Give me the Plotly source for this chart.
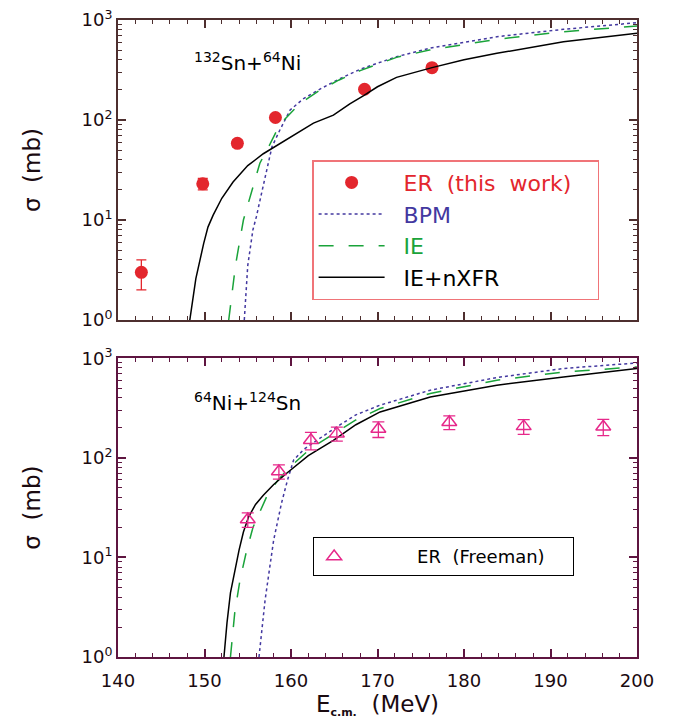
import plotly.graph_objects as go

# ---------------- data: top panel (132Sn + 64Ni) ----------------
er_top_E = [142.7, 149.8, 153.8, 158.2, 168.5, 176.3]
er_top_s = [3.0, 23.0, 58.5, 106.0, 203.0, 334.0]
er_top_err = [1.0, 3.0, 5.0, 5.0, 8.0, 12.0]

bpm_top_E = [154.6, 155.0, 155.6, 156.0, 156.5, 157.0, 157.4, 157.8, 158.7, 159.9, 161.5, 163.4, 165.5, 168.0, 172.2, 176.0, 183.8, 191.5, 200.0]
bpm_top_s = [1.0, 3.5, 8.0, 10.8, 17.0, 27.0, 40.0, 54.0, 79.0, 126.0, 165.0, 205.0, 255.0, 322.0, 430.0, 521.0, 681.0, 807.0, 940.0]

ie_top_E = [152.8, 153.6, 154.5, 155.5, 156.4, 157.6, 158.7, 160.3, 161.8, 163.4, 165.5, 168.0, 172.2, 176.0, 183.8, 191.5, 200.0]
ie_top_s = [1.0, 3.6, 10.0, 20.0, 37.0, 58.0, 90.0, 126.0, 162.0, 200.0, 250.0, 312.0, 423.0, 500.0, 641.0, 764.0, 871.0]

nx_top_E = [148.3, 149.0, 149.9, 150.4, 151.0, 152.0, 153.3, 155.0, 156.8, 158.7, 160.7, 162.6, 164.9, 166.8, 168.4, 170.0, 172.2, 176.3, 180.0, 183.8, 191.5, 200.0]
nx_top_s = [1.0, 2.6, 5.8, 8.5, 11.2, 16.5, 24.0, 35.0, 46.0, 58.0, 75.0, 93.0, 112.0, 145.0, 175.0, 215.0, 267.0, 334.0, 400.0, 464.0, 607.0, 736.0]

# ---------------- data: bottom panel (64Ni + 124Sn) ----------------
er_bot_E = [155.0, 158.6, 162.3, 165.3, 170.1, 178.3, 186.9, 196.1]
er_bot_s = [24.0, 73.0, 150.0, 175.0, 195.0, 228.0, 207.0, 205.0]
er_bot_err = [4.0, 12.0, 30.0, 28.0, 35.0, 36.0, 35.0, 38.0]

bpm_bot_E = [156.3, 157.0, 157.5, 158.0, 158.9, 159.6, 160.3, 161.5, 163.0, 165.3, 167.5, 170.3, 176.1, 183.8, 191.5, 200.0]
bpm_bot_s = [1.0, 3.7, 7.5, 15.0, 35.0, 60.0, 95.0, 122.0, 150.0, 205.0, 270.0, 338.0, 478.0, 640.0, 789.0, 897.0]

ie_bot_E = [153.0, 153.5, 154.1, 154.8, 155.6, 156.4, 157.2, 158.5, 159.9, 162.3, 164.9, 167.5, 170.3, 176.1, 183.8, 191.5, 200.0]
ie_bot_s = [1.0, 2.8, 5.9, 11.0, 20.0, 29.0, 41.0, 60.0, 81.0, 125.0, 175.0, 240.0, 313.0, 443.0, 601.0, 729.0, 818.0]

nx_bot_E = [152.25, 152.6, 153.0, 153.5, 154.0, 154.5, 155.1, 155.9, 156.8, 158.0, 159.5, 162.0, 164.9, 167.5, 170.3, 176.1, 183.8, 191.5, 200.0]
nx_bot_s = [1.0, 2.2, 4.4, 7.5, 11.9, 18.0, 25.6, 34.0, 42.0, 54.0, 70.0, 105.0, 150.0, 215.0, 289.0, 409.0, 536.0, 649.0, 789.0]

x_ticks = [140, 150, 160, 170, 180, 190, 200]
y_ticks = [1, 10, 100, 1000]
y_tick_text = ["10<sup>0</sup>", "10<sup>1</sup>", "10<sup>2</sup>", "10<sup>3</sup>"]
y_minor = [m * d for d in (1, 10, 100) for m in range(2, 10)]

RED = "#e3262d"
BLUE = "#4338a0"
GREEN = "#1aa33a"
MAG = "#e6288a"
TOPFRAME = "#4e2f2f"
BOTFRAME = "#5e1540"
TXT = "#1a0a10"
FONT = "DejaVu Sans"
NB = "\u00a0"

fig = go.Figure()

# top panel
fig.add_trace(go.Scatter(
    x=er_top_E, y=er_top_s, mode="markers",
    marker=dict(symbol="circle", size=13, color=RED),
    error_y=dict(type="data", array=er_top_err, color=RED, thickness=1.3, width=5),
    name=NB * 2 + f"<span style='color:{RED}'>ER{NB*2}(this{NB*2}work)</span>" + NB * 3,
    xaxis="x", yaxis="y", legend="legend"))
fig.add_trace(go.Scatter(
    x=bpm_top_E, y=bpm_top_s, mode="lines",
    line=dict(color=BLUE, width=1.5, dash="dot"),
    name=NB * 2 + f"<span style='color:{BLUE}'>BPM</span>",
    xaxis="x", yaxis="y", legend="legend"))
fig.add_trace(go.Scatter(
    x=ie_top_E, y=ie_top_s, mode="lines",
    line=dict(color=GREEN, width=1.5, dash="longdash"),
    name=NB * 2 + f"<span style='color:{GREEN}'>IE</span>",
    xaxis="x", yaxis="y", legend="legend"))
fig.add_trace(go.Scatter(
    x=nx_top_E, y=nx_top_s, mode="lines",
    line=dict(color="black", width=1.5),
    name=NB * 2 + "IE+nXFR",
    xaxis="x", yaxis="y", legend="legend"))

# bottom panel
fig.add_trace(go.Scatter(
    x=bpm_bot_E, y=bpm_bot_s, mode="lines",
    line=dict(color=BLUE, width=1.5, dash="dot"),
    showlegend=False, xaxis="x2", yaxis="y2"))
fig.add_trace(go.Scatter(
    x=ie_bot_E, y=ie_bot_s, mode="lines",
    line=dict(color=GREEN, width=1.5, dash="longdash"),
    showlegend=False, xaxis="x2", yaxis="y2"))
fig.add_trace(go.Scatter(
    x=nx_bot_E, y=nx_bot_s, mode="lines",
    line=dict(color="black", width=1.5),
    showlegend=False, xaxis="x2", yaxis="y2"))
fig.add_trace(go.Scatter(
    x=er_bot_E, y=er_bot_s, mode="markers",
    marker=dict(symbol="triangle-up-open", size=13, color=MAG, line=dict(width=1.5, color=MAG)),
    error_y=dict(type="data", array=er_bot_err, color=MAG, thickness=1.3, width=6),
    name=NB * 11 + "ER" + NB * 2 + "(Freeman)" + NB * 4,
    xaxis="x2", yaxis="y2", legend="legend2"))

def xaxis(frame, show_labels, anchor, title=None):
    d = dict(range=[140, 200], tickvals=x_ticks, ticks="inside", ticklen=8, tickwidth=1.5,
             tickcolor=frame, showline=True, linecolor=frame, linewidth=2, mirror="ticks",
             showgrid=False, zeroline=False, anchor=anchor, showticklabels=show_labels,
             automargin=False, ticklabelstandoff=6, ticklabeloverflow="allow",
             tickfont=dict(family=FONT, size=18, color=TXT),
             minor=dict(dtick=2, ticks="inside", ticklen=4, tickwidth=1.3, tickcolor=frame, showgrid=False))
    if title:
        d["title"] = dict(text=title, font=dict(family=FONT, size=23, color=TXT), standoff=0)
    return d

def yaxis(frame, domain, anchor):
    return dict(type="log", range=[0, 3], domain=domain, anchor=anchor,
                tickvals=y_ticks, ticktext=y_tick_text, ticks="inside", ticklen=8, tickwidth=1.5,
                tickcolor=frame, showline=True, linecolor=frame, linewidth=2, mirror="ticks",
                showgrid=False, zeroline=False, automargin=False, ticklabeloverflow="allow",
                tickfont=dict(family=FONT, size=18, color=TXT),
                minor=dict(tickvals=y_minor, ticks="inside", ticklen=4, tickwidth=1.3,
                           tickcolor=frame, showgrid=False),
                title=dict(text="\u03c3" + NB * 2 + "(mb)", font=dict(family=FONT, size=23, color=TXT),
                           standoff=34))

fig.update_layout(
    width=673, height=722,
    margin=dict(l=118, r=36, t=20, b=65, autoexpand=False),
    paper_bgcolor="white", plot_bgcolor="white",
    font=dict(family=FONT, size=22, color="black"),
    xaxis=xaxis(TOPFRAME, False, "y"),
    yaxis=yaxis(TOPFRAME, [0.529, 1.0], "x"),
    xaxis2=xaxis(BOTFRAME, True, "y2",
                 "E<sub><span style='font-size:11px'><b>c.m.</b></span></sub>" + NB * 2 + "(MeV)"),
    yaxis2=yaxis(BOTFRAME, [0.0, 0.469], "x2"),
    legend=dict(x=0.374, y=0.780, xanchor="left", yanchor="top",
                bordercolor="#f07478", borderwidth=1.5, bgcolor="white",
                font=dict(family=FONT, size=22, color="black"),
                itemwidth=66, tracegroupgap=0),
    legend2=dict(x=0.376, y=0.188, xanchor="left", yanchor="top",
                 bordercolor="black", borderwidth=1, bgcolor="white",
                 font=dict(family=FONT, size=18, color="black"),
                 itemwidth=30),
)

fig.add_annotation(text="<sup>132</sup>Sn+<sup>64</sup>Ni", xref="paper", yref="paper",
                   x=(247 - 118) / 519, y=(657 - 62) / 637, xanchor="center", yanchor="middle",
                   showarrow=False, font=dict(family=FONT, size=20, color="black"))
fig.add_annotation(text="<sup>64</sup>Ni+<sup>124</sup>Sn", xref="paper", yref="paper",
                   x=(247 - 118) / 519, y=(657 - 402) / 637, xanchor="center", yanchor="middle",
                   showarrow=False, font=dict(family=FONT, size=20, color="black"))

fig.write_html("out.html", config={"displayModeBar": False},
               post_script="document.body.style.margin='0';document.body.style.overflow='hidden';")
